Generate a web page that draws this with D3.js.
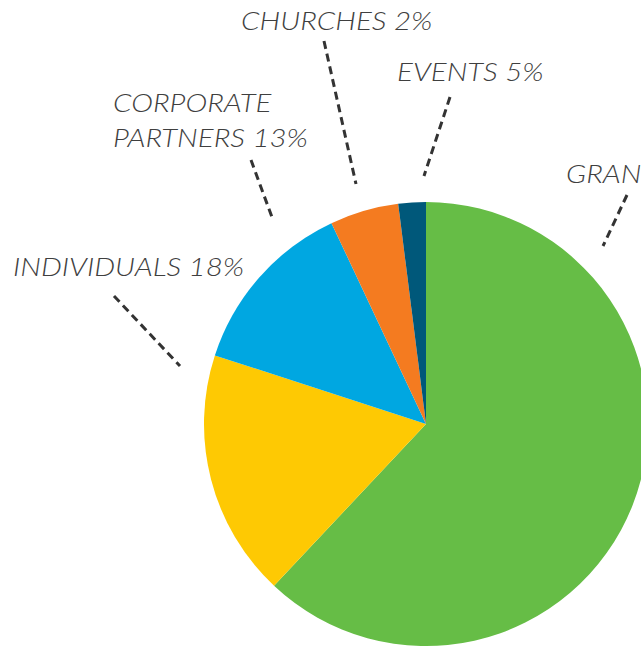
<!DOCTYPE html>
<html><head><meta charset="utf-8">
<script src="https://cdn.jsdelivr.net/npm/d3@7"></script>
<style>html,body{margin:0;padding:0;background:#fff;overflow:hidden}</style>
</head><body>
<svg id="c" width="641" height="646"></svg>
<script>
const categories = ["GRANTS", "INDIVIDUALS", "CORPORATE PARTNERS", "EVENTS", "CHURCHES"];
const values = [62, 18, 13, 5, 2];
const colors = ["#66bd46", "#fec903", "#00a7e1", "#f47b20", "#00587a"];

// label layout (text lines, anchor, leader line endpoints)
const labelLayout = [
  {lines:["GRANTS 62%"], x:566, y:183, line:[[627,195],[603,246]]},
  {lines:["INDIVIDUALS 18%"], x:13, y:276, line:[[114,296],[180,366]]},
  {lines:["CORPORATE","PARTNERS 13%"], x:113, y:112, line:[[251,160],[273,220]]},
  {lines:["EVENTS 5%"], x:397, y:81, line:[[450,97],[424,176]]},
  {lines:["CHURCHES 2%"], x:241, y:30, line:[[324,41],[356,184]]}
];

const svg = d3.select("#c");
const cx = 426, cy = 424, r = 222;
const pie = d3.pie().sort(null).value(d => d)(values);
const arc = d3.arc().innerRadius(0).outerRadius(r);
svg.append("g").attr("transform", `translate(${cx},${cy})`)
  .selectAll("path").data(pie).join("path")
  .attr("d", arc).attr("fill", (d,i) => colors[i]);

const lg = svg.append("g");
const sx = 1.18;
labelLayout.forEach((l, i) => {
  lg.append("line")
    .attr("x1", l.line[0][0]).attr("y1", l.line[0][1])
    .attr("x2", l.line[1][0]).attr("y2", l.line[1][1])
    .attr("stroke", "#333").attr("stroke-width", 3)
    .attr("stroke-dasharray", "8,5");
  const t = lg.append("text")
    .attr("transform", `translate(${l.x},${l.y}) scale(${sx},1)`)
    .attr("font-family", "Lato, 'Open Sans', sans-serif")
    .attr("font-style", "italic").attr("font-size", 25)
    .attr("font-weight", 300)
    .attr("fill", "#3f3f3f");
  l.lines.forEach((s, j) => {
    t.append("tspan").attr("x", 0).attr("dy", j === 0 ? 0 : 35).text(s);
  });
});
</script>
</body></html>
